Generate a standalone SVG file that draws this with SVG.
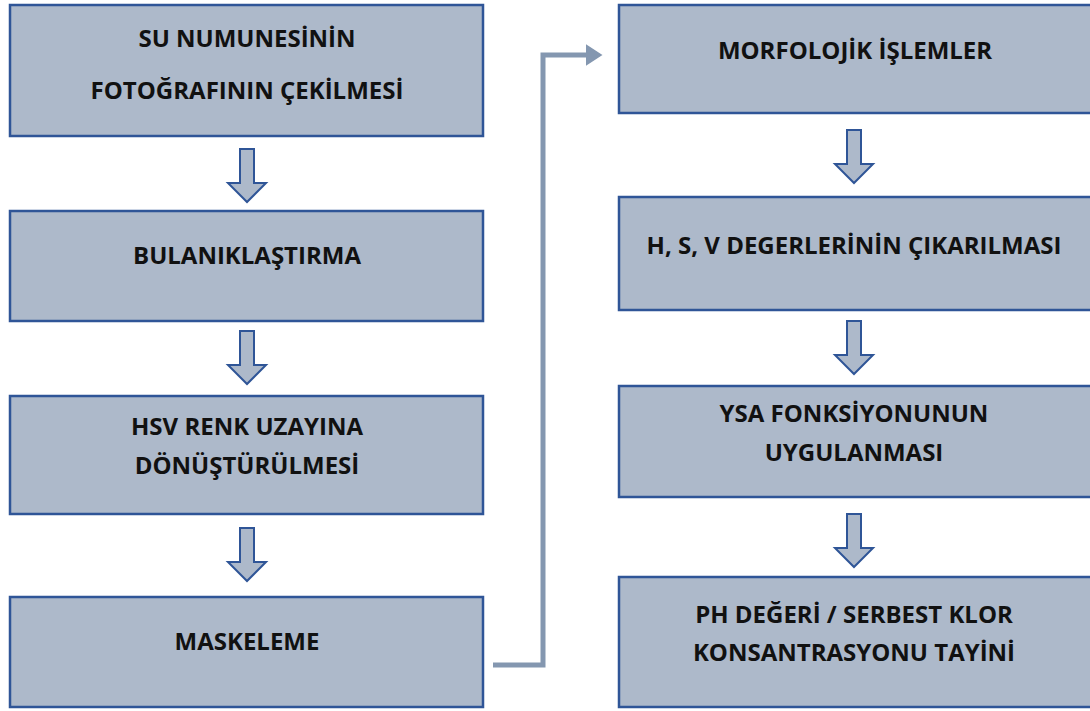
<svg xmlns="http://www.w3.org/2000/svg" width="1090" height="711" viewBox="0 0 1090 711">
<defs>
<style>
.box{fill:#ADB9CA;stroke:#2F5597;stroke-width:2.5}
.t{font-family:"Open Sans","Liberation Sans",Arial,sans-serif;font-weight:bold;font-size:24px;fill:#111;text-anchor:middle}
.da{fill:#ADB9CA;stroke:#2F5597;stroke-width:2;stroke-linejoin:miter}
.conn{fill:none;stroke:#8497B0;stroke-width:5}
</style>
<marker id="ah" markerWidth="4" markerHeight="4.4" refX="0.5" refY="2.2" orient="auto" markerUnits="strokeWidth">
<path d="M0,0 L3.4,2.2 L0,4.4 z" fill="#8497B0"/>
</marker>
</defs>
<rect width="1090" height="711" fill="#fff"/>
<g id="n1"><rect class="box" x="10" y="5" width="473" height="131"/>
<text class="t" x="247" y="47">SU NUMUNESİNİN</text>
<text class="t" x="247" y="99">FOTOĞRAFININ ÇEKİLMESİ</text></g>
<g id="n2"><rect class="box" x="10" y="211" width="473" height="110"/>
<text class="t" x="247" y="264">BULANIKLAŞTIRMA</text></g>
<g id="n3"><rect class="box" x="10" y="396" width="473" height="118"/>
<text class="t" x="247" y="435">HSV RENK UZAYINA</text>
<text class="t" x="247" y="474">DÖNÜŞTÜRÜLMESİ</text></g>
<g id="n4"><rect class="box" x="10" y="597" width="473" height="110"/>
<text class="t" x="247" y="650">MASKELEME</text></g>
<g id="n5"><rect class="box" x="619" y="5" width="475" height="108"/>
<text class="t" x="855" y="59">MORFOLOJİK İŞLEMLER</text></g>
<g id="n6"><rect class="box" x="619" y="197" width="475" height="113"/>
<text class="t" x="854" y="254">H, S, V DEGERLERİNİN ÇIKARILMASI</text></g>
<g id="n7"><rect class="box" x="619" y="386" width="475" height="111"/>
<text class="t" x="854" y="422">YSA FONKSİYONUNUN</text>
<text class="t" x="854" y="461">UYGULANMASI</text></g>
<g id="n8"><rect class="box" x="619" y="577" width="475" height="130"/>
<text class="t" x="854" y="623">PH DEĞERİ / SERBEST KLOR</text>
<text class="t" x="854" y="661">KONSANTRASYONU TAYİNİ</text></g>
<g id="connectors">
<path class="da" d="M240,149 H254 V183 H266 L247,202 L228,183 H240 Z"/>
<path class="da" d="M240,331 H254 V365 H266 L247,384 L228,365 H240 Z"/>
<path class="da" d="M240,528 H254 V562 H266 L247,581 L228,562 H240 Z"/>
<path class="da" d="M847,130 H861 V164 H873 L854,183 L835,164 H847 Z"/>
<path class="da" d="M847,321 H861 V355 H873 L854,374 L835,355 H847 Z"/>
<path class="da" d="M847,514 H861 V548 H873 L854,567 L835,548 H847 Z"/>
<path class="conn" d="M493,665 H543 V55 H588" marker-end="url(#ah)"/>
</g>
</svg>
